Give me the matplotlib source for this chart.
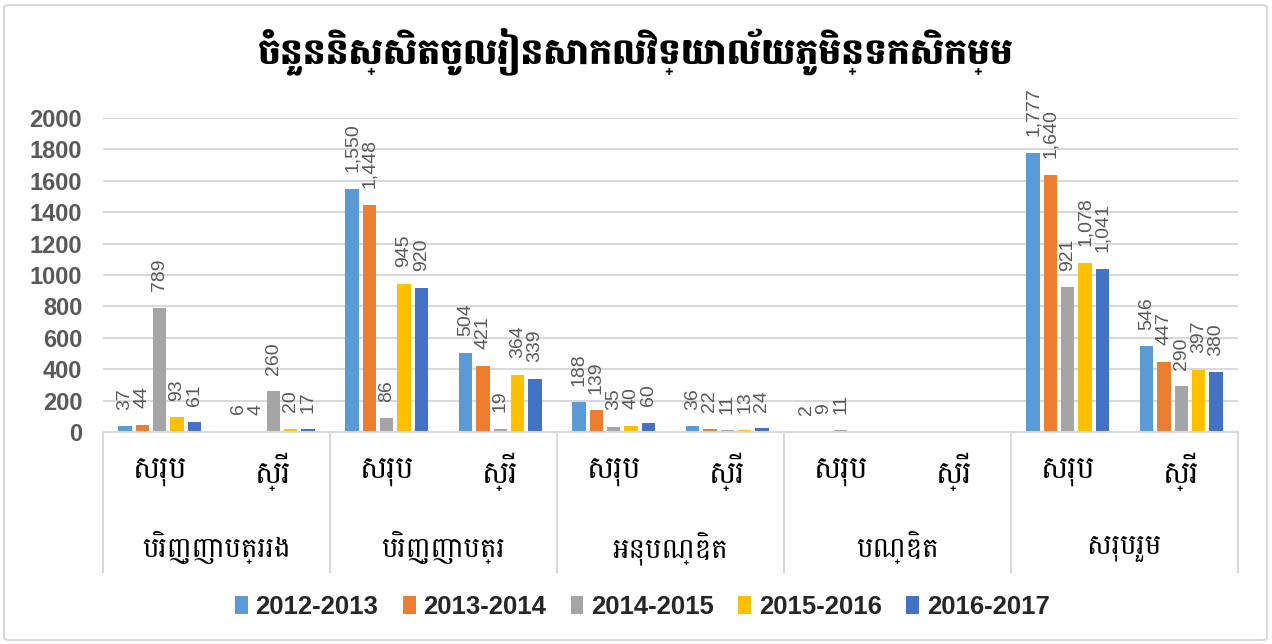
import numpy as np
import matplotlib
matplotlib.use("Agg")
import matplotlib.pyplot as plt
from matplotlib import font_manager
from matplotlib.patches import FancyBboxPatch
from matplotlib.transforms import blended_transform_factory

# ---- data ----
groups = ["បរិញ្ញាបត្ររង", "បរិញ្ញាបត្រ", "អនុបណ្ឌិត", "បណ្ឌិត", "សរុបរួម"]
subs = ["សរុប", "ស្រី"]
years = ["2012-2013", "2013-2014", "2014-2015", "2015-2016", "2016-2017"]

y1213 = [37, 6, 1550, 504, 188, 36, 2, np.nan, 1777, 546]
y1314 = [44, 4, 1448, 421, 139, 22, 9, np.nan, 1640, 447]
y1415 = [789, 260, 86, 19, 35, 11, 11, np.nan, 921, 290]
y1516 = [93, 20, 945, 364, 40, 13, np.nan, np.nan, 1078, 397]
y1617 = [61, 17, 920, 339, 60, 24, np.nan, np.nan, 1041, 380]

titulo = "ចំនួននិស្សិតចូលរៀនសាកលវិទ្យាល័យភូមិន្ទកសិកម្ម"

series = [y1213, y1314, y1415, y1516, y1617]
colores = ["#5B9BD5", "#ED7D31", "#A5A5A5", "#FFC000", "#4472C4"]


# elegir fuentes disponibles
def elegir(nombres, defecto="DejaVu Sans"):
    disponibles = {f.name for f in font_manager.fontManager.ttflist}
    for n in nombres:
        if n in disponibles:
            return n
    return defecto

khmer = elegir(["Battambang", "Noto Sans Khmer", "Hanuman", "Khmer"])
latin = elegir(["Liberation Sans", "Arial"])
plt.rcParams["font.family"] = [latin, khmer, "DejaVu Sans"]

W, H = 1272, 644
fig = plt.figure(figsize=(W / 100, H / 100), dpi=100)

# marco exterior
fig.patches.append(FancyBboxPatch((4 / W, 4 / H), 1 - 9 / W, 1 - 9 / H,
                                  boxstyle="round,pad=0,rounding_size=0.004",
                                  transform=fig.transFigure, fill=False,
                                  edgecolor="#d9d9d9", linewidth=1.5))

x0, x1, yb, yt = 103, 1238, 432, 118
ax = fig.add_axes([x0 / W, 1 - yb / H, (x1 - x0) / W, (yb - yt) / H])

n = len(y1213)
x = np.arange(n)
paso = 0.153
ancho = 0.117

for j, (vals, col, yr) in enumerate(zip(series, colores, years)):
    pos = x + (j - 2) * paso
    ax.bar(pos, vals, width=ancho, color=col, label=yr, zorder=3)
    for p, v in zip(pos, vals):
        if np.isnan(v):
            continue
        ax.annotate(f"{int(v):,}", (p, v), xytext=(0, 12), textcoords="offset points",
                    rotation=90, ha="center", va="bottom", fontsize=14,
                    color="#595959", family=[latin])

ax.set_xlim(-0.5, n - 0.5)
ax.set_ylim(0, 2000)
ax.set_yticks(range(0, 2001, 200))
ax.tick_params(axis="y", length=0, pad=15, labelsize=17, labelcolor="#595959")
for lab in ax.get_yticklabels():
    lab.set_fontweight("bold")
ax.set_xticks([])
ax.grid(axis="y", color="#d9d9d9", linewidth=1.5, zorder=0)
for s in ["left", "right", "top"]:
    ax.spines[s].set_visible(False)
ax.spines["bottom"].set_color("#d9d9d9")
ax.spines["bottom"].set_linewidth(1.5)
ax.spines["bottom"].set_zorder(4)

# eje de categorías en dos niveles
tr = blended_transform_factory(ax.transData, ax.transAxes)
fondo = -(572 - yb) / (yb - yt)
for k in range(len(groups) + 1):
    xs = -0.5 + 2 * k
    ax.plot([xs, xs], [0, fondo], transform=tr, color="#d9d9d9", lw=1.5,
            clip_on=False)
for i in range(n):
    ax.text(i, -(472 - yb) / (yb - yt), subs[i % 2], transform=tr, ha="center",
            va="center", fontsize=22, family=[khmer], color="#000000")
for g, nombre in enumerate(groups):
    ax.text(2 * g + 0.5, -(548 - yb) / (yb - yt), nombre, transform=tr,
            ha="center", va="center", fontsize=20, family=[khmer], color="#000000")

fig.text(0.5, 1 - 52 / H, titulo, ha="center", va="center", fontsize=26,
         fontweight="black", family=[khmer])

leg = fig.legend(loc="center", bbox_to_anchor=(0.505, 1 - 607 / H), ncol=5,
                 frameon=False, handlelength=0.5, handleheight=0.75,
                 handletextpad=0.3, columnspacing=0.95,
                 prop={"family": latin, "weight": "bold", "size": 18.5})
for t in leg.get_texts():
    t.set_color("#262626")

fig.savefig("out.png", dpi=100)
